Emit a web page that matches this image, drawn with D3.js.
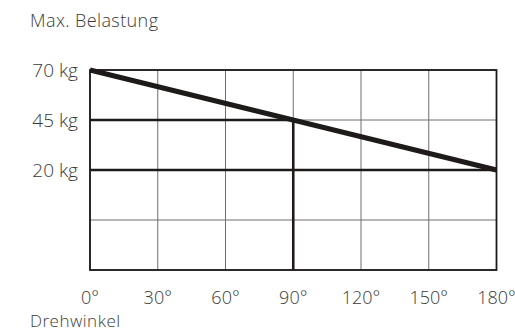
<!DOCTYPE html>
<meta charset="utf-8">
<style>
body { margin: 0; background: #fff; }
text { font-family: "Open Sans", Lato, sans-serif; font-weight: 300; fill: #3a3a3a; }
.grid line { stroke: #6e6e6e; stroke-width: 1; }
.mark { stroke: #1e1a1a; fill: none; }
</style>
<svg width="515" height="332"></svg>
<script src="https://d3js.org/d3.v7.min.js"></script>
<script>

var angles = [0, 30, 60, 90, 120, 150, 180];
var loadLevels = [70, 45, 20, -5, -30];
var loadLabels = [70, 45, 20];
var loadCurve = [
    { angle: 0, load: 70 },
    { angle: 180, load: 20 }
];
var markedAngle = 90;
var markedLoad = 45;

var svg = d3.select("svg"),
    plotLeft = 90, plotRight = 496.5, plotTop = 70, plotBottom = 270;

var x = d3.scaleLinear().domain([0, 180]).range([plotLeft, plotRight]);
var y = d3.scaleLinear().domain([-30, 70]).range([plotBottom, plotTop]);

// thin grid
var grid = svg.append("g").attr("class", "grid");
grid.selectAll(".v").data(angles).enter().append("line")
    .attr("x1", function (d) { return x(d); })
    .attr("x2", function (d) { return x(d); })
    .attr("y1", plotTop).attr("y2", plotBottom);
grid.selectAll(".h").data(loadLevels).enter().append("line")
    .attr("y1", function (d) { return y(d); })
    .attr("y2", function (d) { return y(d); })
    .attr("x1", plotLeft).attr("x2", plotRight);

// frame
svg.append("rect")
    .attr("class", "mark")
    .attr("x", plotLeft).attr("y", plotTop)
    .attr("width", plotRight - plotLeft).attr("height", plotBottom - plotTop)
    .attr("stroke-width", 1.8);

// highlighted reference lines
svg.append("line").attr("class", "mark").attr("stroke-width", 2.6)
    .attr("x1", x(0)).attr("x2", x(markedAngle))
    .attr("y1", y(markedLoad)).attr("y2", y(markedLoad));
svg.append("line").attr("class", "mark").attr("stroke-width", 2.6)
    .attr("x1", x(markedAngle)).attr("x2", x(markedAngle))
    .attr("y1", y(markedLoad)).attr("y2", y(-30));
svg.append("line").attr("class", "mark").attr("stroke-width", 2.6)
    .attr("x1", x(0)).attr("x2", x(180))
    .attr("y1", y(20)).attr("y2", y(20));

// load curve
var line = d3.line()
    .x(function (d) { return x(d.angle); })
    .y(function (d) { return y(d.load); });
svg.append("path").datum(loadCurve)
    .attr("class", "mark")
    .attr("stroke-width", 5)
    .attr("d", line);

// labels
svg.selectAll(".ylab").data(loadLabels).enter().append("text")
    .attr("x", 78)
    .attr("y", function (d) { return y(d) + 7; })
    .attr("text-anchor", "end")
    .style("font-size", "19px")
    .text(function (d) { return d + " kg"; });

svg.selectAll(".xlab").data(angles).enter().append("text")
    .attr("x", function (d) { return x(d); })
    .attr("y", 304)
    .attr("text-anchor", "middle")
    .style("font-size", "18px")
    .text(function (d) { return d + "°"; });

svg.append("text").attr("x", 30).attr("y", 27)
    .style("font-size", "18px").style("letter-spacing", "0.4px")
    .text("Max. Belastung");
svg.append("text").attr("x", 30).attr("y", 327)
    .style("font-size", "17px").style("letter-spacing", "0.5px")
    .text("Drehwinkel");

</script>
